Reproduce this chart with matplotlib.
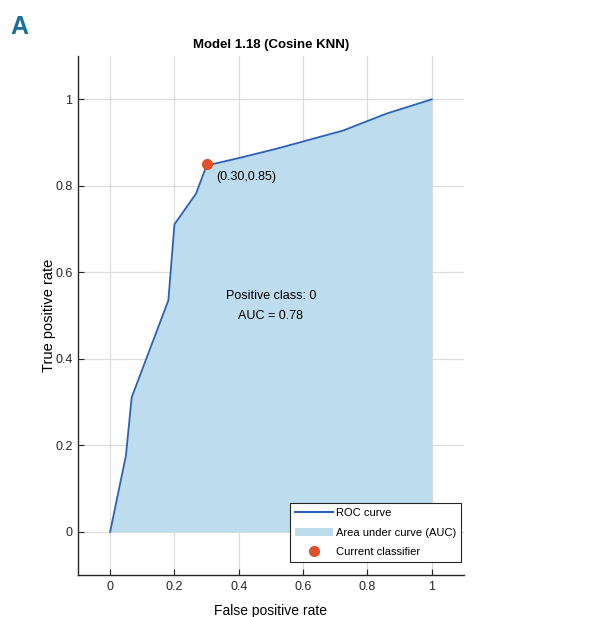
import matplotlib
matplotlib.use("Agg")
import matplotlib.pyplot as plt
from matplotlib import font_manager as fm
from matplotlib.lines import Line2D
from matplotlib.patches import Patch

names = {f.name for f in fm.fontManager.ttflist}
fam = "Liberation Sans Narrow" if "Liberation Sans Narrow" in names else "Liberation Sans"
plt.rcParams['font.family'] = [fam, 'DejaVu Sans']

fpr = [0.0, 0.049, 0.067, 0.181, 0.200, 0.267, 0.300, 0.404, 0.518, 0.725, 0.859, 1.0]
tpr = [0.0, 0.176, 0.311, 0.535, 0.711, 0.782, 0.847, 0.865, 0.886, 0.928, 0.967, 1.0]
current = (0.30, 0.85)
auc = 0.78
title = "Model 1.18 (Cosine KNN)"
ticks = [0, 0.2, 0.4, 0.6, 0.8, 1]
tick_labels = ["0", "0.2", "0.4", "0.6", "0.8", "1"]

fig = plt.figure(figsize=(6.0, 6.17), dpi=100)
ax = fig.add_axes([0.13, 0.068, 0.643, 0.841])

line_c = "#2a62b8"
fill_c = "#bddcee"
dot_c = "#e0502a"

ax.fill_between(fpr, tpr, 0, color=fill_c, lw=0, zorder=2)
ax.plot(fpr, tpr, color=line_c, lw=1.3, zorder=3)
ax.plot([current[0]], [current[1]], 'o', color=dot_c, ms=7, zorder=4)
ax.text(current[0] + 0.03, current[1] - 0.03, "(%.2f,%.2f)" % current, fontsize=9,
        va='center', ha='left', zorder=5)
ax.text(0.5, 0.546, "Positive class: 0", fontsize=9, ha='center', va='center', zorder=5)
ax.text(0.5, 0.498, "AUC = %.2f" % auc, fontsize=9, ha='center', va='center', zorder=5)

ax.set_xlim(-0.1, 1.1)
ax.set_ylim(-0.1, 1.1)
ax.set_xticks(ticks)
ax.set_xticklabels(tick_labels)
ax.set_yticks(ticks)
ax.set_yticklabels(tick_labels)
ax.grid(True, color="#dcdcdc", lw=0.9, zorder=0)
ax.set_axisbelow(True)
for s in ['top', 'right']:
    ax.spines[s].set_visible(False)
for s in ['left', 'bottom']:
    ax.spines[s].set_color("#262626")
    ax.spines[s].set_linewidth(1.0)
ax.tick_params(direction='in', length=4, labelsize=9, colors="#262626", pad=4)
ax.set_xlabel("False positive rate", fontsize=10, labelpad=8)
ax.set_ylabel("True positive rate", fontsize=10.5, labelpad=-1)
ax.set_title(title, fontsize=9.5, fontweight='bold', pad=6)

handles = [Line2D([0], [0], color=line_c, lw=1.5),
           Patch(facecolor=fill_c, edgecolor='none'),
           Line2D([0], [0], marker='o', color=dot_c, lw=0, ms=7)]
leg = ax.legend(handles, ["ROC curve", "Area under curve (AUC)", "Current classifier"],
                loc='lower right', bbox_to_anchor=(0.993, 0.025), fontsize=8, frameon=True,
                fancybox=False, edgecolor="#262626", framealpha=1, borderpad=0.45,
                handlelength=3.4, labelspacing=0.85, handletextpad=0.3, borderaxespad=0.0)
leg.get_frame().set_linewidth(0.8)
leg.set_zorder(6)

fig.text(0.017, 0.957, "A", fontsize=18, fontweight='bold', color="#1a6e9c", ha='left', va='center')

fig.savefig("out.png", dpi=100)
